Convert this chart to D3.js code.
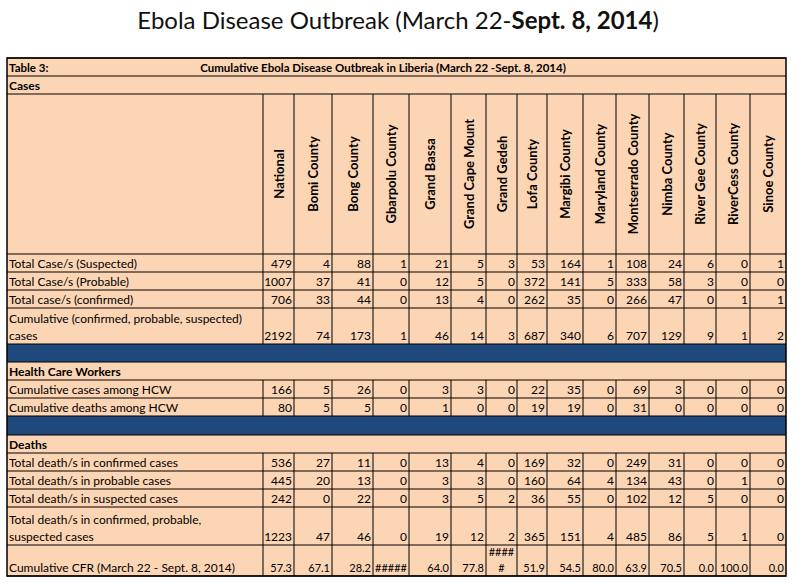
<!DOCTYPE html>
<html>
<head>
<meta charset="utf-8">
<script src="https://cdn.jsdelivr.net/npm/d3@7"></script>
<style>
  body { margin: 0; background: #fff; }
  svg text { font-family: Lato, "Noto Sans", sans-serif; }
</style>
</head>
<body>
<svg id="chart" width="795" height="584"></svg>
<script>
'use strict';

// data
var counties = ["National", "Bomi County", "Bong County", "Gbarpolu County", "Grand Bassa",
  "Grand Cape Mount", "Grand Gedeh", "Lofa County", "Margibi County", "Maryland County",
  "Montserrado County", "Nimba County", "River Gee County", "RiverCess County", "Sinoe County"];

var suspected   = [479, 4, 88, 1, 21, 5, 3, 53, 164, 1, 108, 24, 6, 0, 1];
var probable    = [1007, 37, 41, 0, 12, 5, 0, 372, 141, 5, 333, 58, 3, 0, 0];
var confirmed   = [706, 33, 44, 0, 13, 4, 0, 262, 35, 0, 266, 47, 0, 1, 1];
var cumulative  = [2192, 74, 173, 1, 46, 14, 3, 687, 340, 6, 707, 129, 9, 1, 2];
var hcwCases    = [166, 5, 26, 0, 3, 3, 0, 22, 35, 0, 69, 3, 0, 0, 0];
var hcwDeaths   = [80, 5, 5, 0, 1, 0, 0, 19, 19, 0, 31, 0, 0, 0, 0];
var deathsConf  = [536, 27, 11, 0, 13, 4, 0, 169, 32, 0, 249, 31, 0, 0, 0];
var deathsProb  = [445, 20, 13, 0, 3, 3, 0, 160, 64, 4, 134, 43, 0, 1, 0];
var deathsSusp  = [242, 0, 22, 0, 3, 5, 2, 36, 55, 0, 102, 12, 5, 0, 0];
var deathsTotal = [1223, 47, 46, 0, 19, 12, 2, 365, 151, 4, 485, 86, 5, 1, 0];
var cfr         = ["57.3", "67.1", "28.2", "#####", "64.0", "77.8", "####|#", "51.9", "54.5",
  "80.0", "63.9", "70.5", "0.0", "100.0", "0.0"];

var rows = [
  {type: "title"},
  {type: "section", label: "Cases"},
  {type: "header"},
  {type: "data", label: ["Total Case/s (Suspected)"], values: suspected},
  {type: "data", label: ["Total Case/s (Probable)"], values: probable},
  {type: "data", label: ["Total case/s (confirmed)"], values: confirmed},
  {type: "data", label: ["Cumulative (confirmed, probable, suspected)", "cases"], values: cumulative},
  {type: "band"},
  {type: "section", label: "Health Care Workers"},
  {type: "data", label: ["Cumulative  cases among HCW"], values: hcwCases},
  {type: "data", label: ["Cumulative  deaths among HCW"], values: hcwDeaths},
  {type: "band"},
  {type: "section", label: "Deaths"},
  {type: "data", label: ["Total death/s in confirmed cases"], values: deathsConf},
  {type: "data", label: ["Total death/s in probable cases"], values: deathsProb},
  {type: "data", label: ["Total death/s in suspected cases"], values: deathsSusp},
  {type: "data", label: ["Total death/s in confirmed, probable,", "suspected cases"], values: deathsTotal},
  {type: "data", label: ["Cumulative CFR (March 22 - Sept. 8, 2014)"], values: cfr, small: true}
];

// layout
var colEdges = [7, 263, 294, 332, 373, 409, 451, 486, 517, 547, 583, 616, 649, 684, 716, 750, 786];
var rowEdges = [58, 76, 94, 254, 272, 290, 308, 344, 362, 380, 398, 416, 435, 453, 471, 489, 507, 545, 576];
var peach = "#fcd5b4", navy = "#1f497d";

var svg = d3.select("#chart");

svg.append("text").attr("x", 398).attr("y", 29).attr("text-anchor", "middle")
  .attr("font-size", 24).attr("fill", "#111")
  .call(function(t) {
    t.append("tspan").text("Ebola Disease Outbreak (March 22-");
    t.append("tspan").attr("font-weight", "bold").text("Sept. 8, 2014");
    t.append("tspan").text(")");
  });

var L = colEdges[0], R = colEdges[colEdges.length - 1];

rows.forEach(function(row, i) {
  var y0 = rowEdges[i], y1 = rowEdges[i + 1];
  var g = svg.append("g");
  g.append("rect").attr("x", L).attr("y", y0).attr("width", R - L).attr("height", y1 - y0)
    .attr("fill", row.type === "band" ? navy : peach);

  if (row.type === "title") {
    g.append("text").attr("x", L + 2).attr("y", y1 - 4).attr("font-size", 11.5)
      .attr("font-weight", "bold").text("Table 3:");
    g.append("text").attr("x", 383).attr("y", y1 - 4).attr("font-size", 11.5)
      .attr("text-anchor", "middle").attr("font-weight", "bold")
      .text("Cumulative Ebola Disease Outbreak in Liberia (March 22 -Sept. 8, 2014)");
  } else if (row.type === "section") {
    g.append("text").attr("x", L + 2).attr("y", y1 - 4).attr("font-size", 12)
      .attr("font-weight", "bold").text(row.label);
  } else if (row.type === "header") {
    var cy = (y0 + y1) / 2;
    g.selectAll("text").data(counties).join("text")
      .attr("transform", function(d, j) {
        var cx = (colEdges[j + 1] + colEdges[j + 2]) / 2 + 5;
        return "translate(" + cx + "," + cy + ") rotate(-90)";
      })
      .attr("text-anchor", "middle").attr("font-size", 13).attr("font-weight", "bold")
      .text(function(d) { return d; });
  } else if (row.type === "data") {
    var fs = row.small ? 11 : 12;
    row.label.forEach(function(line, k) {
      g.append("text").attr("x", L + 2).attr("y", y1 - 4 - (row.label.length - 1 - k) * 17)
        .attr("font-size", 12).text(line);
    });
    g.selectAll("text.v").data(row.values).join("text").attr("class", "v")
      .each(function(d, j) {
        var x0 = colEdges[j + 1], x1 = colEdges[j + 2];
        var parts = String(d).split("|");
        var t = d3.select(this).attr("font-size", fs);
        if (parts.length > 1) {
          t.attr("x", (x0 + x1) / 2).attr("y", y1 - 20).attr("text-anchor", "middle").text(parts[0]);
          g.append("text").attr("x", (x0 + x1) / 2).attr("y", y1 - 4).attr("text-anchor", "middle")
            .attr("font-size", fs).text(parts[1]);
        } else {
          t.attr("x", x1 - 2).attr("y", y1 - 4).attr("text-anchor", "end").text(d);
        }
      });
  }

  // grid lines
  var line = function(xa, ya, xb, yb) {
    g.append("line").attr("x1", xa).attr("y1", ya).attr("x2", xb).attr("y2", yb)
      .attr("stroke", "#000").attr("stroke-width", 1);
  };
  line(L, y0, R, y0);
  if (row.type === "header" || row.type === "data") {
    colEdges.slice(1, -1).forEach(function(x) { line(x, y0, x, y1); });
  }
});

svg.append("rect").attr("x", L).attr("y", rowEdges[0]).attr("width", R - L)
  .attr("height", rowEdges[rowEdges.length - 1] - rowEdges[0])
  .attr("fill", "none").attr("stroke", "#000").attr("stroke-width", 1.5);
svg.append("line").attr("x1", L).attr("x2", R)
  .attr("y1", rowEdges[rowEdges.length - 1]).attr("y2", rowEdges[rowEdges.length - 1])
  .attr("stroke", "#000");
</script>
</body>
</html>
